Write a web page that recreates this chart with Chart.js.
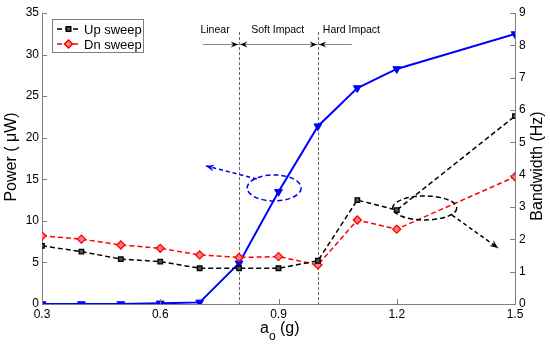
<!DOCTYPE html>
<html>
<head>
<meta charset="utf-8">
<script src="https://cdn.jsdelivr.net/npm/chart.js@4/dist/chart.umd.min.js"></script>
<style>
  body { margin: 0; background: #fff; }
  canvas { display: block; }
</style>
</head>
<body>
<canvas id="myChart" width="550" height="346"></canvas>
<script>
// data
const aValues = [0.3, 0.4, 0.5, 0.6, 0.7, 0.8, 0.9, 1.0, 1.1, 1.2, 1.5];
const upSweep = [7.0, 6.3, 5.4, 5.1, 4.3, 4.3, 4.3, 5.2, 12.5, 11.3, 22.6];
const dnSweep = [8.2, 7.8, 7.1, 6.7, 5.9, 5.6, 5.7, 4.7, 10.1, 9.0, 15.3];
const bandwidth = [0, 0, 0, 0.02, 0.05, 1.26, 3.47, 5.5, 6.68, 7.27, 8.35];
const xTicks = [0.3, 0.6, 0.9, 1.2, 1.5];
const regionBounds = [0.8, 1.0];
const regionNames = ["Linear", "Soft Impact", "Hard Impact"];
const seriesNames = ["Up sweep", "Dn sweep"];

const FONT = "'Liberation Sans', Arial, sans-serif";
const AXIS_GRAY = '#808080';

function toPoints(ys) {
    return aValues.map((x, i) => ({ x: x, y: ys[i] }));
}

function arrowHead(ctx, x1, y1, x2, y2, size, color) {
    const ang = Math.atan2(y2 - y1, x2 - x1);
    ctx.save();
    ctx.setLineDash([]);
    ctx.fillStyle = color;
    ctx.beginPath();
    ctx.moveTo(x2, y2);
    ctx.lineTo(x2 - size * Math.cos(ang - 0.4), y2 - size * Math.sin(ang - 0.4));
    ctx.lineTo(x2 - size * 0.6 * Math.cos(ang), y2 - size * 0.6 * Math.sin(ang));
    ctx.lineTo(x2 - size * Math.cos(ang + 0.4), y2 - size * Math.sin(ang + 0.4));
    ctx.closePath();
    ctx.fill();
    ctx.restore();
}

function dashedArrow(ctx, x1, y1, x2, y2, color) {
    ctx.save();
    ctx.strokeStyle = color;
    ctx.lineWidth = 1.5;
    ctx.setLineDash([4, 3]);
    ctx.beginPath();
    ctx.moveTo(x1, y1);
    ctx.lineTo(x2, y2);
    ctx.stroke();
    ctx.restore();
    arrowHead(ctx, x1, y1, x2, y2, 9, color);
}

function dashedEllipse(ctx, cx, cy, rx, ry, color) {
    ctx.save();
    ctx.strokeStyle = color;
    ctx.lineWidth = 1.5;
    ctx.setLineDash([5, 3]);
    ctx.beginPath();
    ctx.ellipse(cx, cy, rx, ry, 0, 0, Math.PI * 2);
    ctx.stroke();
    ctx.restore();
}

const annotate = {
    id: 'annotate',
    beforeDatasetsDraw(chart) {
        const ctx = chart.ctx;
        const xs = chart.scales.x, ys = chart.scales.y;
        const area = chart.chartArea;

        // regime boundaries
        ctx.save();
        ctx.strokeStyle = '#666';
        ctx.lineWidth = 1;
        ctx.setLineDash([3, 2]);
        regionBounds.forEach(v => {
            const px = Math.round(xs.getPixelForValue(v)) + 0.5;
            ctx.beginPath();
            ctx.moveTo(px, ys.getPixelForValue(32.7));
            ctx.lineTo(px, area.bottom);
            ctx.stroke();
        });
        ctx.restore();

        // regime bar with arrows
        const yBar = Math.round(ys.getPixelForValue(31.3)) + 0.5;
        const xa = xs.getPixelForValue(0.708), xb = xs.getPixelForValue(1.086);
        ctx.save();
        ctx.strokeStyle = '#888';
        ctx.lineWidth = 1;
        ctx.beginPath();
        ctx.moveTo(xa, yBar);
        ctx.lineTo(xb, yBar);
        ctx.stroke();
        ctx.restore();
        regionBounds.forEach(v => {
            const px = xs.getPixelForValue(v);
            arrowHead(ctx, px - 10, yBar, px - 1, yBar, 8, '#000');
            arrowHead(ctx, px + 10, yBar, px + 1, yBar, 8, '#000');
        });

        ctx.save();
        ctx.fillStyle = '#000';
        ctx.font = '10.5px ' + FONT;
        ctx.textAlign = 'center';
        ctx.textBaseline = 'middle';
        const yLbl = ys.getPixelForValue(32.9);
        ctx.fillText(regionNames[0], xs.getPixelForValue(0.739), yLbl);
        ctx.fillText(regionNames[1], xs.getPixelForValue(0.898), yLbl);
        ctx.fillText(regionNames[2], xs.getPixelForValue(1.085), yLbl);
        ctx.restore();
    },
    afterDatasetsDraw(chart) {
        const ctx = chart.ctx;
        const xs = chart.scales.x, ys = chart.scales.y, y1 = chart.scales.y1;
        const area = chart.chartArea;

        // ellipses + pointer arrows
        dashedEllipse(ctx, xs.getPixelForValue(0.889), ys.getPixelForValue(13.96), 27, 13, '#0000ff');
        dashedArrow(ctx, xs.getPixelForValue(0.845), ys.getPixelForValue(15.04),
            xs.getPixelForValue(0.716), ys.getPixelForValue(16.6), '#0000ff');
        dashedEllipse(ctx, xs.getPixelForValue(1.271), ys.getPixelForValue(11.55), 32, 12, '#000');
        dashedArrow(ctx, xs.getPixelForValue(1.34), ys.getPixelForValue(10.7),
            xs.getPixelForValue(1.457), ys.getPixelForValue(6.74), '#000');

        // inward tick marks
        ctx.save();
        ctx.strokeStyle = AXIS_GRAY;
        ctx.lineWidth = 1;
        ctx.beginPath();
        xs.ticks.forEach(t => {
            const px = Math.round(xs.getPixelForValue(t.value)) + 0.5;
            ctx.moveTo(px, area.bottom);
            ctx.lineTo(px, area.bottom - 5);
        });
        ys.ticks.forEach(t => {
            const py = Math.round(ys.getPixelForValue(t.value)) + 0.5;
            ctx.moveTo(area.left, py);
            ctx.lineTo(area.left + 5, py);
        });
        y1.ticks.forEach(t => {
            const py = Math.round(y1.getPixelForValue(t.value)) + 0.5;
            ctx.moveTo(area.right, py);
            ctx.lineTo(area.right - 5, py);
        });
        ctx.stroke();
        ctx.restore();

        // legend
        ctx.save();
        ctx.fillStyle = '#fff';
        ctx.strokeStyle = AXIS_GRAY;
        ctx.lineWidth = 1;
        ctx.fillRect(52.5, 19.5, 91, 33);
        ctx.strokeRect(52.5, 19.5, 91, 33);
        const sets = chart.data.datasets;
        [0, 1].forEach(i => {
            const ds = sets[i];
            const ly = 29 + i * 15;
            ctx.save();
            ctx.strokeStyle = ds.borderColor;
            ctx.lineWidth = 1.5;
            ctx.setLineDash(ds.borderDash);
            ctx.beginPath();
            ctx.moveTo(57, ly);
            ctx.lineTo(80, ly);
            ctx.stroke();
            ctx.setLineDash([]);
            ctx.fillStyle = ds.pointBackgroundColor;
            ctx.strokeStyle = ds.borderColor;
            Chart.helpers.drawPoint(ctx, {
                pointStyle: ds.pointStyle, radius: ds.pointRadius,
                rotation: 0, borderWidth: ds.pointBorderWidth
            }, 68.5, ly);
            ctx.restore();
            ctx.fillStyle = '#000';
            ctx.font = '13px ' + FONT;
            ctx.textBaseline = 'middle';
            ctx.fillText(seriesNames[i], 84, ly + 1);
        });
        ctx.restore();

        // axis titles
        ctx.save();
        ctx.fillStyle = '#000';
        ctx.font = '16px ' + FONT;
        ctx.textAlign = 'center';
        ctx.textBaseline = 'middle';
        ctx.translate(12, 157);
        ctx.rotate(-Math.PI / 2);
        ctx.fillText('Power ( \u03bcW)', 0, 0);
        ctx.restore();

        ctx.save();
        ctx.fillStyle = '#000';
        ctx.font = '16px ' + FONT;
        ctx.textAlign = 'center';
        ctx.textBaseline = 'middle';
        ctx.translate(538, 166);
        ctx.rotate(-Math.PI / 2);
        ctx.fillText('Bandwidth (Hz)', 0, 0);
        ctx.restore();

        ctx.save();
        ctx.fillStyle = '#000';
        ctx.textBaseline = 'middle';
        ctx.font = '16px ' + FONT;
        ctx.fillText('a', 260, 329);
        ctx.font = '12px ' + FONT;
        ctx.fillText('o', 269, 337);
        ctx.font = '16px ' + FONT;
        ctx.fillText('(g)', 280, 329);
        ctx.restore();
    }
};

const tickFont = { family: FONT, size: 12 };

new Chart(document.getElementById('myChart'), {
    type: 'line',
    data: {
        datasets: [
            {
                label: seriesNames[0],
                data: toPoints(upSweep),
                yAxisID: 'y',
                borderColor: '#000000',
                borderWidth: 1.5,
                borderDash: [5, 3],
                pointStyle: 'rect',
                pointRadius: 3.2,
                pointBorderWidth: 1.3,
                pointBackgroundColor: '#555555',
                pointBorderColor: '#000000'
            },
            {
                label: seriesNames[1],
                data: toPoints(dnSweep),
                yAxisID: 'y',
                borderColor: '#ff0000',
                borderWidth: 1.5,
                borderDash: [5, 3],
                pointStyle: 'rectRot',
                pointRadius: 4,
                pointBorderWidth: 1.3,
                pointBackgroundColor: '#ff8080',
                pointBorderColor: '#ff0000'
            },
            {
                label: 'Bandwidth',
                data: toPoints(bandwidth),
                yAxisID: 'y1',
                borderColor: '#0000ff',
                borderWidth: 2,
                pointStyle: 'triangle',
                rotation: 180,
                pointRadius: 4.5,
                pointBorderWidth: 1,
                pointBackgroundColor: '#0000ff',
                pointBorderColor: '#0000ff'
            }
        ]
    },
    options: {
        responsive: false,
        animation: false,
        layout: { padding: { top: 13 } },
        plugins: { legend: { display: false }, tooltip: { enabled: false } },
        scales: {
            x: {
                type: 'linear',
                min: 0.3,
                max: 1.5,
                afterBuildTicks: s => { s.ticks = xTicks.map(v => ({ value: v })); },
                afterFit: s => { s.height = 42; },
                grid: { display: true, drawOnChartArea: false, drawTicks: false },
                border: { color: AXIS_GRAY, width: 1 },
                ticks: { font: tickFont, color: '#000', padding: 3, maxRotation: 0,
                    callback: v => v.toFixed(1) }
            },
            y: {
                position: 'left',
                min: 0,
                max: 35,
                afterFit: s => { s.width = 42; },
                grid: { display: true, drawOnChartArea: false, drawTicks: false },
                border: { color: AXIS_GRAY, width: 1 },
                ticks: { stepSize: 5, font: tickFont, color: '#000', padding: 3 }
            },
            y1: {
                position: 'right',
                min: 0,
                max: 9,
                afterFit: s => { s.width = 35; },
                grid: { display: true, drawOnChartArea: false, drawTicks: false },
                border: { color: AXIS_GRAY, width: 1 },
                ticks: { stepSize: 1, font: tickFont, color: '#000', padding: 4 }
            }
        }
    },
    plugins: [annotate]
});
</script>
</body>
</html>
